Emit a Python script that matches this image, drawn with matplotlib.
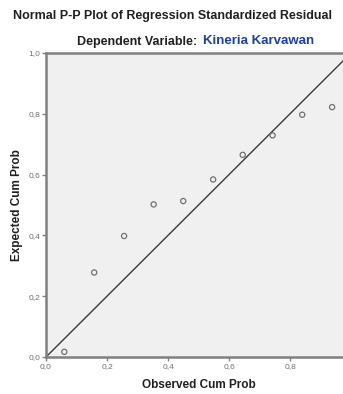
"""Normal P-P plot of regression standardized residual."""

import matplotlib.pyplot as plt
import numpy as np

# valores
observed = [0.06, 0.158, 0.256, 0.353, 0.45, 0.548, 0.645, 0.743, 0.84, 0.938]
expected = [0.017, 0.278, 0.398, 0.502, 0.513, 0.584, 0.665, 0.729, 0.797, 0.822]
ticks = [0.0, 0.2, 0.4, 0.6, 0.8, 1.0]
tick_labels = ["0,0", "0,2", "0,4", "0,6", "0,8", "1,0"]

plt.rcParams['font.family'] = ['Liberation Sans', 'DejaVu Sans']

fig = plt.figure(figsize=(3.43, 3.94), dpi=100)
# o eixo continua além da borda direita (recortado como no original)
ax = fig.add_axes([46 / 343, 37 / 394, 305 / 343, 304 / 394])
ax.set_facecolor('#f0f0f0')

ax.plot([0, 1], [0, 1], color='#3a3a3a', linewidth=1.0, zorder=2)
ax.scatter(observed, expected, s=14, facecolors='none', edgecolors='#707070',
           linewidths=0.9, zorder=3)

ax.set_xlim(0, 1)
ax.set_ylim(0, 1)
ax.set_xticks(ticks[:-1])
ax.set_xticklabels(tick_labels[:-1])
ax.set_yticks(ticks)
ax.set_yticklabels(tick_labels)
ax.tick_params(axis='both', direction='out', length=3, width=1, color='#808080',
               labelsize=6, labelcolor='#707070', pad=1)

for side in ['left', 'bottom', 'top', 'right']:
    ax.spines[side].set_color('#808080')
    ax.spines[side].set_linewidth(1.8)

ax.set_xlabel('Observed Cum Prob', fontsize=8.5, fontweight='bold', color='#202020', labelpad=7)
ax.set_ylabel('Expected Cum Prob', fontsize=8.5, fontweight='bold', color='#202020', labelpad=4)

fig.text(172 / 343, 1 - 16 / 394, 'Normal P-P Plot of Regression Standardized Residual',
         ha='center', va='center', fontsize=9, fontweight='bold', color='#202020')
fig.text(201 / 343, 1 - 42 / 394, 'Dependent Variable: ', ha='right', va='center',
         fontsize=9, fontweight='bold', color='#202020')
fig.text(203 / 343, 1 - 41 / 394, 'Kineria Karvawan', ha='left', va='center',
         fontsize=9.5, fontweight='bold', color='#1f3f9f')

plt.savefig('out.png', dpi=100)
plt.close()
